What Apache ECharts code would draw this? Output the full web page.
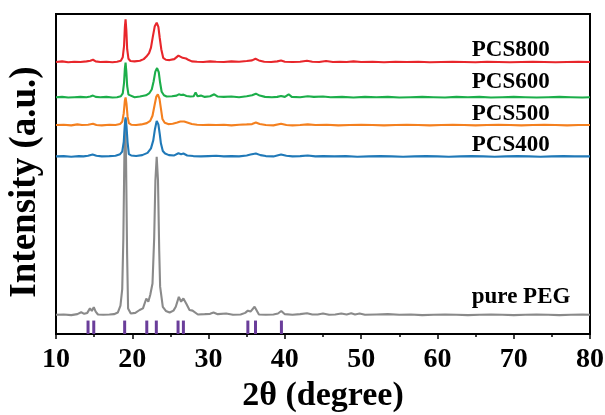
<!DOCTYPE html>
<html><head><meta charset="utf-8">
<script src="https://cdn.jsdelivr.net/npm/echarts@6/dist/echarts.min.js"></script>
<style>html,body{margin:0;padding:0;background:#fff}#c{width:605px;height:415px}</style>
</head><body><div id="c"></div>
<script>
// 2θ (degree) vs intensity (a.u., stacked offsets)
var xTicks = [10, 20, 30, 40, 50, 60, 70, 80];
var seriesNames = ['pure PEG', 'PCS400', 'PCS500', 'PCS600', 'PCS800'];

var pcs800 = [[10,85.0],[10.8,85.2],[11.6,84.9],[12.4,85.1],[13.2,85.0],[14.0,85.2],[14.5,85.4],[14.85,85.7],[15.2,85.2],[15.8,85.0],[16.6,85.1],[17.4,84.9],[18.0,85.1],[18.5,85.4],[18.75,86.5],[18.92,90],[19.03,96],[19.12,98.3],[19.22,95],[19.33,89],[19.5,86.0],[19.75,85.3],[20.3,85.2],[21.0,85.4],[21.5,85.9],[21.85,86.7],[22.2,87.8],[22.45,89.5],[22.7,93],[22.95,96.2],[23.2,97.3],[23.42,96],[23.6,92.5],[23.8,89.0],[24.05,86.3],[24.4,85.7],[24.9,85.6],[25.5,85.9],[26.05,87.0],[26.3,86.5],[26.6,86.3],[27.05,86.1],[27.4,85.6],[27.8,85.2],[28.5,85.1],[29.3,85.0],[30.2,85.2],[31.0,85.1],[32.0,85.0],[33,85.2],[34,85.1],[35,85.3],[35.7,85.5],[36.15,86.0],[36.6,85.5],[37.3,85.1],[38.2,85.0],[39.0,85.2],[39.5,85.5],[40.0,85.1],[41,85.0],[42,85.1],[42.9,85.4],[43.6,85.1],[44.5,85.0],[45.4,85.3],[46.3,85.0],[47.2,85.1],[48.1,85.0],[49.0,85.2],[50,85.0],[51.5,85.1],[53,84.9],[54.5,85.1],[56,85.0],[57.5,85.1],[59,84.9],[60.5,85.0],[62,85.1],[63.5,85.0],[65,84.9],[66.5,85.1],[68,85.0],[69.5,84.9],[71,85.0],[72.5,85.1],[74,85.0],[75.5,84.9],[77,85.0],[78.5,85.1],[80,85.0]];

var pcs600 = [[10,74.0],[10.8,74.1],[11.6,73.9],[12.4,74.0],[13.2,74.1],[14.0,74.0],[14.5,74.2],[14.85,74.5],[15.2,74.1],[15.8,74.0],[16.6,74.1],[17.4,73.9],[18.0,74.0],[18.5,74.3],[18.75,75.2],[18.92,78.5],[19.03,83],[19.12,84.8],[19.22,82],[19.33,77.5],[19.5,74.8],[19.75,74.2],[20.3,74.0],[21.0,74.2],[21.8,74.6],[22.25,75.3],[22.55,76.4],[22.8,79],[23.02,82],[23.25,83.1],[23.47,81.8],[23.65,78.5],[23.85,75.7],[24.15,74.6],[24.5,74.2],[25.2,74.3],[25.8,74.5],[26.1,74.9],[26.4,74.7],[26.7,74.8],[27.1,74.4],[27.6,74.2],[28.05,74.3],[28.3,75.5],[28.55,74.3],[29.0,74.5],[29.5,74.1],[30.2,74.3],[30.75,74.9],[31.2,74.2],[32,74.1],[33,74.2],[34,74.0],[35,74.3],[35.7,74.6],[36.2,75.1],[36.7,74.5],[37.4,74.1],[38.3,74.0],[39.0,74.1],[39.5,74.4],[40.0,74.1],[40.5,74.9],[40.9,74.1],[42,74.0],[43,74.3],[43.8,74.1],[45,74.2],[46,74.0],[47.5,74.1],[49,73.9],[50.5,74.1],[52,74.0],[53.5,74.1],[55,73.9],[56.5,74.0],[58,74.1],[59.5,74.0],[61,73.9],[62.5,74.1],[64,74.0],[65.5,74.1],[67,73.9],[68.5,74.0],[70,74.1],[71.5,74.0],[73,73.9],[74.5,74.0],[76,74.1],[77.5,74.0],[79,73.9],[80,74.0]];

var pcs500 = [[10,65.3],[11,65.4],[12,65.2],[12.8,65.5],[13.4,65.3],[14.2,65.4],[14.85,65.7],[15.3,65.3],[16,65.2],[17,65.4],[17.8,65.3],[18.4,65.6],[18.68,66.3],[18.88,69],[19.03,73],[19.12,73.9],[19.24,72],[19.38,68],[19.55,65.9],[19.85,65.4],[20.5,65.3],[21.2,65.5],[21.9,65.9],[22.35,66.6],[22.65,68.2],[22.92,71.5],[23.15,74.2],[23.35,74.9],[23.57,73.5],[23.75,70.5],[23.95,67.2],[24.25,66.0],[24.7,65.6],[25.3,65.7],[25.9,66.1],[26.3,66.4],[26.8,66.4],[27.3,66.0],[27.8,65.6],[28.5,65.4],[29.3,65.3],[30.0,65.4],[31,65.3],[32,65.4],[33,65.2],[34,65.4],[35,65.5],[35.7,65.6],[36.2,66.1],[36.7,65.6],[37.5,65.3],[38.5,65.2],[39.5,65.7],[40.2,65.3],[41,65.2],[42,65.3],[43,65.5],[44,65.3],[45.5,65.4],[47,65.2],[48.5,65.3],[50,65.4],[51.5,65.3],[53,65.2],[54.5,65.3],[56,65.4],[57.5,65.3],[59,65.2],[60.5,65.3],[62,65.4],[63.5,65.3],[65,65.2],[66.5,65.3],[68,65.4],[69.5,65.3],[71,65.2],[72.5,65.3],[74,65.4],[75.5,65.3],[77,65.2],[78.5,65.3],[80,65.3]];

var pcs400 = [[10,55.5],[11,55.6],[12,55.4],[13,55.6],[13.6,55.5],[14.2,55.7],[14.8,56.1],[15.3,55.7],[16,55.5],[17,55.6],[17.8,55.7],[18.4,56.2],[18.68,57.0],[18.88,60],[19.01,65],[19.12,67.7],[19.24,65],[19.38,60],[19.55,56.2],[19.85,55.8],[20.5,55.6],[21.3,55.9],[22.0,56.6],[22.45,58.0],[22.75,60.5],[22.97,64],[23.2,66.6],[23.42,65.5],[23.6,62.5],[23.75,59.6],[24.0,57.2],[24.3,56.4],[24.8,55.9],[25.5,55.8],[26.05,56.5],[26.4,56.2],[26.7,56.4],[27.2,55.8],[28,55.6],[29,55.5],[30,55.6],[31,55.7],[32,55.5],[33,55.6],[34,55.5],[35,55.8],[35.5,56.1],[36.2,56.4],[36.8,55.9],[37.5,55.6],[38.5,55.5],[39.5,56.1],[40.2,55.7],[41,55.5],[42,55.6],[43,55.8],[44,55.5],[45,55.6],[46.5,55.5],[48,55.6],[49.5,55.4],[51,55.5],[52.5,55.6],[54,55.5],[55.5,55.4],[57,55.5],[58.5,55.6],[60,55.5],[61.5,55.4],[63,55.5],[64.5,55.6],[66,55.5],[67.5,55.4],[69,55.5],[70.5,55.6],[72,55.5],[73.5,55.4],[75,55.5],[76.5,55.6],[78,55.5],[80,55.5]];

var purePEG = [[10,6.0],[11,6.1],[12,5.9],[12.8,6.2],[13.3,6.8],[13.7,6.3],[14.1,6.6],[14.45,8.0],[14.7,7.2],[14.95,8.4],[15.2,7.0],[15.5,6.1],[16.2,6.0],[17.0,6.1],[17.6,6.2],[18.1,6.7],[18.45,8.9],[18.68,14],[18.83,30],[18.96,55],[19.07,67],[19.18,55],[19.32,25],[19.45,8.0],[19.8,6.4],[20.4,6.6],[20.96,7.5],[21.4,8.0],[21.84,11.1],[22.1,10.1],[22.35,12.2],[22.65,15.8],[22.87,30],[23.03,48],[23.2,55.4],[23.37,48],[23.53,26],[23.65,14.8],[24.0,8.5],[24.4,7.2],[24.9,6.7],[25.4,7.3],[25.7,8.5],[26.1,11.6],[26.4,10.1],[26.7,11.1],[27.1,9.4],[27.5,7.5],[27.9,7.3],[28.6,6.1],[29.5,6.2],[30.2,6.3],[30.65,6.7],[31.2,6.2],[32.3,6.4],[33.2,6.0],[34.2,6.1],[34.8,6.6],[35.15,7.3],[35.5,7.0],[36.03,8.5],[36.6,6.1],[37.5,6.0],[38.5,6.1],[39.1,6.4],[39.53,7.2],[40.0,6.2],[41,6.0],[42,6.2],[42.9,6.5],[43.6,6.1],[44.3,6.1],[45.0,6.4],[45.8,6.0],[46.6,6.1],[47.4,6.4],[48.1,6.1],[48.7,6.5],[49.2,6.1],[49.8,6.4],[50.5,6.0],[52,6.1],[53.5,6.2],[55,6.0],[56.5,6.1],[58,5.9],[59.5,6.0],[61,6.1],[62.5,6.0],[64,5.9],[65.5,6.0],[67,6.1],[68.5,6.0],[70,5.9],[71.5,6.0],[73,6.1],[74.5,6.0],[76,5.9],[77.5,6.0],[79,6.1],[80,6.0]];

// reference (PDF card) stick positions and height
var stickPos = [14.2, 14.95, 19.0, 21.9, 23.15, 26.0, 26.7, 35.15, 36.15, 39.55];
var stickHeight = 4.2;

var labelText = ['pure PEG', 'PCS400', 'PCS500', 'PCS600', 'PCS800'];
var labelY = [11.6, 59.1, 68.75, 78.75, 88.75];
var labelX = 64.5;

var colors = ['#8a8a8a', '#2079b8', '#f4801f', '#1cae4a', '#e8262b'];
var datasets = [purePEG, pcs400, pcs500, pcs600, pcs800];

var FONT = '"Liberation Serif", "Times New Roman", serif';

var series = datasets.map(function (d, i) {
  return {
    name: seriesNames[i],
    type: 'line',
    data: d,
    showSymbol: false,
    symbol: 'none',
    lineStyle: { color: colors[i], width: 2.1 },
    z: 2 + i,
    animation: false,
    markPoint: {
      symbol: 'circle',
      symbolSize: 0,
      animation: false,
      data: [{
        coord: [labelX, labelY[i]],
        label: {
          show: true, formatter: labelText[i], position: 'right', distance: 0,
          color: '#000', fontFamily: FONT, fontWeight: 'bold', fontSize: 23
        }
      }]
    }
  };
});

series.push({
  type: 'bar',
  data: stickPos.map(function (p) { return [p, stickHeight]; }),
  barWidth: 3,
  itemStyle: { color: '#6a3d9a' },
  animation: false,
  z: 1
});

var chart = echarts.init(document.getElementById('c'), null, { renderer: 'canvas' });
chart.setOption({
  animation: false,
  backgroundColor: '#fff',
  grid: { left: 56, right: 15, top: 14, bottom: 81, show: true, borderColor: '#000', borderWidth: 2, backgroundColor: 'transparent', containLabel: false, outerBoundsMode: 'none' },
  graphic: [{
    type: 'text', x: 25, y: 182, rotation: Math.PI / 2, originX: 0, originY: 0,
    style: { text: 'Intensity (a.u.)', fill: '#000', font: 'bold 37px ' + FONT, align: 'center', verticalAlign: 'middle' }
  }],
  xAxis: {
    type: 'value', min: xTicks[0], max: xTicks[xTicks.length - 1], interval: 10,
    name: '2θ (degree)', nameLocation: 'middle', nameGap: 45,
    nameTextStyle: { fontFamily: FONT, fontWeight: 'bold', fontSize: 34, color: '#000' },
    axisLine: { show: true, lineStyle: { color: '#000', width: 2 } },
    axisTick: { show: true, inside: false, length: 5, lineStyle: { color: '#000', width: 1.5 } },
    minorTick: { show: true, splitNumber: 2, length: 3, lineStyle: { color: '#000', width: 1.5 } },
    splitLine: { show: false },
    axisLabel: { margin: 12, fontFamily: FONT, fontWeight: 'bold', fontSize: 28, color: '#000' }
  },
  yAxis: {
    type: 'value', min: 0, max: 100,
    axisLine: { show: true, lineStyle: { color: '#000', width: 2 } },
    axisTick: { show: false },
    axisLabel: { show: false },
    splitLine: { show: false }
  },
  series: series
});
</script>
</body></html>
